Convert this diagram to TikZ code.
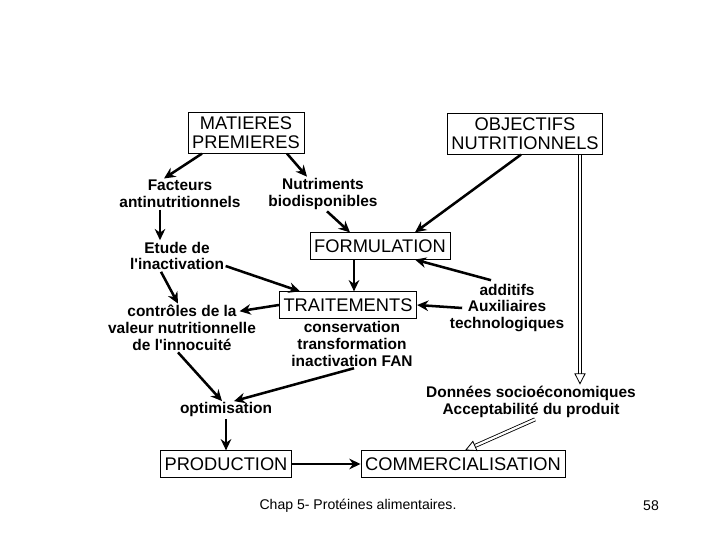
\documentclass[tikz,border=0pt]{standalone}
\usepackage{fontspec}
\setmainfont{Liberation Sans}
\usetikzlibrary{arrows.meta}

\begin{document}
\begin{tikzpicture}[>={Stealth[length=8pt,width=7.5pt]},
	   b/.style={draw, line width=0.6pt, font=\fontsize{13}{13.5}\selectfont, align=center, inner xsep=3pt, inner ysep=3pt, minimum height=0.66cm},
	   t/.style={font=\bfseries\fontsize{11}{12}\selectfont, align=center, inner sep=1pt},
	   a/.style={->, line width=1.8pt},
	   h/.style={double, double distance=1.6pt, line width=0.6pt, -{Triangle[open, length=8pt, width=8pt]}}]
	  \useasboundingbox (0,0) rectangle (18,13.5);
	  \node[b] (MP) at (6.15,10.175) {MATIERES\\PREMIERES};
	  \node[b] (OB) at (13.125,10.15) {OBJECTIFS\\NUTRITIONNELS};
	  \node[t] (FA) at (4.5,8.65) {Facteurs\\antinutritionnels};
	  \node[t] (NB) at (8.075,8.65) {Nutriments\\biodisponibles};
	  \node[b] (FO) at (9.5,7.35) {FORMULATION};
	  \node[t] (EI) at (4.425,7.1) {Etude de\\l\textquotesingle inactivation};
	  \node[b] (TR) at (8.7,5.875) {TRAITEMENTS};
	  \node[t] (AD) at (12.675,5.8) {additifs\\Auxiliaires\\technologiques};
	  \node[t] (CT) at (4.55,5.3) {contrôles de la\\valeur nutritionnelle\\de l\textquotesingle innocuité};
	  \node[t] (CO) at (8.8,4.9) {conservation\\transformation\\inactivation FAN};
	  \node[t] (OP) at (5.65,3.25) {optimisation};
	  \node[t] (DS) at (13.275,3.45) {Données socioéconomiques\\Acceptabilité du produit};
	  \node[b] (PR) at (5.65,1.9) {PRODUCTION};
	  \node[b] (CM) at (11.575,1.9) {COMMERCIALISATION};
	  \node[font=\fontsize{10}{12}\selectfont] (CH) at (8.95,0.85) {Chap 5- Protéines alimentaires.};
	  \node[font=\fontsize{10}{12}\selectfont] (PG) at (16.275,0.85) {58};
	  \draw[a] ([xshift=-1.1cm]MP.south) -- ([xshift=-0.4cm]FA.north); \draw[a] ([xshift=1.025cm]MP.south) -- ([xshift=-0.4cm]NB.north);
	  \draw[a] ([xshift=0.1cm]NB.south) -- ([xshift=-0.75cm]FO.north); \draw[a] ([xshift=-0.1cm]OB.south) -- ([xshift=0.875cm]FO.north);
	  \draw[h] ([xshift=1.375cm]OB.south) -- ([xshift=1.375cm]OB.south |- DS.north);
	  \draw[a] ([xshift=-0.5cm]FA.south) -- ([xshift=-0.5cm]FA.south |- EI.north);
	  \draw[a] ([yshift=-0.25cm]EI.east) -- ([xshift=-1.2cm]TR.north); \draw[a] ([xshift=-0.65cm]FO.south) -- ([xshift=-0.65cm]FO.south |- TR.north);
	  \draw[a] ([xshift=-0.4cm,yshift=0.05cm]AD.north) -- ([xshift=0.875cm]FO.south); \draw[a] ([xshift=0.35cm]AD.west) -- (TR.east);
	  \draw[a] ([xshift=-0.4cm]EI.south) -- ([xshift=-0.1cm]CT.north); \draw[a] (TR.west) -- ([xshift=-0.45cm,yshift=0.42cm]CT.east);
	  \draw[a] ([xshift=-0.1cm]CT.south) -- ([xshift=-0.1cm]OP.north); \draw[a] ([xshift=0.05cm]CO.south) -- ([xshift=0.2cm]OP.north);
	  \draw[a] (OP.south) -- (PR.north); \draw[a] (PR.east) -- (CM.west);
	  \draw[h] ([xshift=0.1cm]DS.south) -- ([xshift=0.05cm]CM.north);
	\end{tikzpicture}
\end{document}
